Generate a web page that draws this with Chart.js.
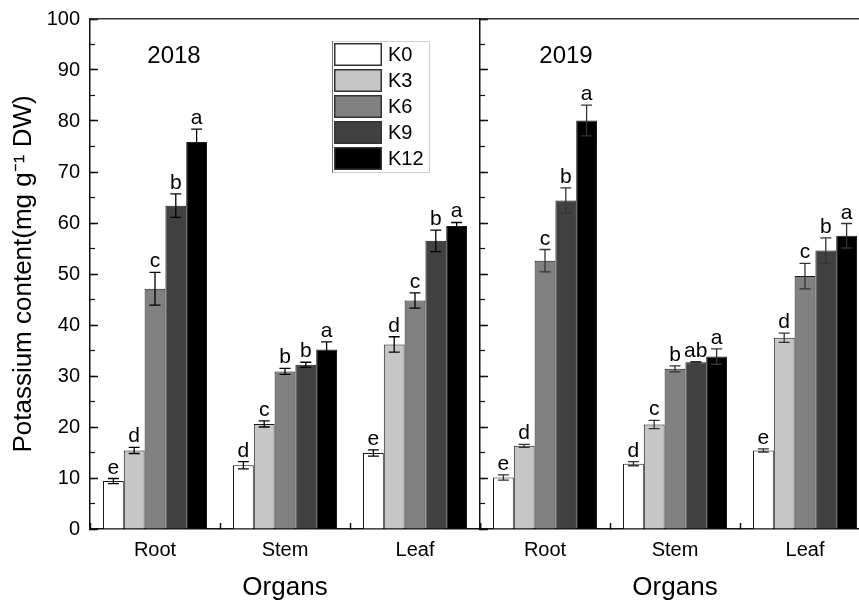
<!DOCTYPE html>
<html>
<head>
<meta charset="utf-8">
<title>Potassium content</title>
<script src="https://cdn.jsdelivr.net/npm/chart.js@4.4.1/dist/chart.umd.min.js"></script>
<style>
  html, body { margin: 0; padding: 0; background: #fff; }
  #wrap { position: relative; width: 859px; height: 604px; overflow: hidden; background: #fff; }
  #wrap canvas { position: absolute; top: 0; }
  #c2018 { left: 0; }
  #c2019 { left: 470px; }
</style>
</head>
<body>
<div id="wrap">
  <canvas id="c2018" width="482" height="604" style="width:482px;height:604px"></canvas>
  <canvas id="c2019" width="410" height="604" style="width:410px;height:604px"></canvas>
</div>
<script>
// ---------------- Data ----------------
const organs = ['Root', 'Stem', 'Leaf'];
const levels = ['K0', 'K3', 'K6', 'K9', 'K12'];
const yMin = 0, yMax = 100, yStep = 10, yMinorStep = 5;

// one row per K level: Root, Stem, Leaf
const values2018 = [
  [9.4, 12.5, 14.9],
  [15.4, 20.6, 36.2],
  [47.1, 30.9, 44.8],
  [63.4, 32.2, 56.5],
  [75.9, 35.2, 59.4]
];
const errors2018 = [
  [0.5, 0.7, 0.6],
  [0.6, 0.6, 1.5],
  [3.2, 0.6, 1.5],
  [2.3, 0.5, 2.1],
  [2.5, 1.5, 0.7]
];
const letters2018 = [
  ['e', 'd', 'e'],
  ['d', 'c', 'd'],
  ['c', 'b', 'c'],
  ['b', 'b', 'b'],
  ['a', 'a', 'a']
];

const values2019 = [
  [10.1, 12.8, 15.4],
  [16.3, 20.5, 37.5],
  [52.6, 31.4, 49.6],
  [64.4, 32.7, 54.6],
  [80.1, 33.8, 57.5]
];
const errors2019 = [
  [0.5, 0.4, 0.3],
  [0.3, 0.8, 0.9],
  [2.2, 0.6, 2.5],
  [2.5, 0.1, 2.5],
  [3.0, 1.5, 2.4]
];
const letters2019 = [
  ['e', 'd', 'e'],
  ['d', 'c', 'd'],
  ['c', 'b', 'c'],
  ['b', 'ab', 'b'],
  ['a', 'a', 'a']
];

// ---------------- Styles ----------------
const fills = ['#ffffff', '#c6c6c6', '#818181', '#414141', '#000000'];
const FONT = "'Liberation Sans', Arial, sans-serif";
const INK = '#111';

Chart.defaults.color = '#000';
Chart.defaults.font.family = FONT;

// error bars + significance letters
const errorBars = {
  id: 'errorBars',
  afterDatasetsDraw(chart, args, opts) {
    const { ctx } = chart;
    const yScale = chart.scales.y;
    ctx.save();
    chart.data.datasets.forEach((ds, i) => {
      const meta = chart.getDatasetMeta(i);
      meta.data.forEach((bar, j) => {
        const v = ds.data[j];
        const e = ds.errors[j];
        const x = bar.x;
        const yTop = yScale.getPixelForValue(v + e);
        const yBot = yScale.getPixelForValue(v - e);
        ctx.strokeStyle = opts.color;
        ctx.lineWidth = 1.3;
        ctx.beginPath();
        ctx.moveTo(x, yTop); ctx.lineTo(x, yBot);
        ctx.moveTo(x - 5.5, yTop); ctx.lineTo(x + 5.5, yTop);
        ctx.moveTo(x - 5.5, yBot); ctx.lineTo(x + 5.5, yBot);
        ctx.stroke();

        ctx.fillStyle = '#000';
        ctx.font = `21px ${FONT}`;
        ctx.textAlign = 'center';
        ctx.textBaseline = 'alphabetic';
        ctx.fillText(ds.letters[j], x, yTop - 5);
      });
    });
    ctx.restore();
  }
};

// year label inside the panel
const panelYear = {
  id: 'panelYear',
  afterDraw(chart, args, opts) {
    const { ctx, chartArea } = chart;
    ctx.save();
    ctx.fillStyle = '#000';
    ctx.font = `24px ${FONT}`;
    ctx.textAlign = 'center';
    ctx.textBaseline = 'middle';
    ctx.fillText(opts.text, chartArea.left + opts.dx, chartArea.top + opts.dy);
    ctx.restore();
  }
};

// boxed legend, Origin style
const boxLegend = {
  id: 'boxLegend',
  afterDraw(chart, args, opts) {
    if (!opts.show) return;
    const { ctx, chartArea } = chart;
    const x0 = chartArea.left + opts.dx;
    const y0 = chartArea.top + opts.dy;
    const rowH = 26, boxW = 48, boxH = 23;
    const n = chart.data.datasets.length;
    ctx.save();
    ctx.strokeStyle = '#d0d0d0';
    ctx.lineWidth = 1;
    ctx.strokeRect(x0 + 0.5, y0 + 0.5, 97, n * rowH + 1);
    ctx.strokeStyle = '#777';
    ctx.beginPath();
    ctx.moveTo(x0 + 0.5, y0); ctx.lineTo(x0 + 0.5, y0 + n * rowH + 2);
    ctx.stroke();
    chart.data.datasets.forEach((ds, i) => {
      const by = y0 + 2 + i * rowH;
      ctx.fillStyle = ds.backgroundColor;
      ctx.fillRect(x0 + 2, by, boxW, boxH);
      ctx.strokeStyle = '#333';
      ctx.lineWidth = 1.5;
      ctx.strokeRect(x0 + 2.75, by + 0.75, boxW - 1.5, boxH - 1.5);
      ctx.fillStyle = '#000';
      ctx.font = `20px ${FONT}`;
      ctx.textAlign = 'left';
      ctx.textBaseline = 'middle';
      ctx.fillText(ds.label, x0 + 56, by + boxH / 2 + 1);
    });
    ctx.restore();
  }
};

function makePanel(canvasId, values, errors, letters, cfg) {
  const datasets = levels.map((lv, i) => ({
    label: lv,
    data: values[i],
    errors: errors[i],
    letters: letters[i],
    backgroundColor: fills[i],
    borderColor: '#1a1a1a',
    borderWidth: 1,
    categoryPercentage: 0.8,
    barPercentage: 1.0,
    xAxisID: 'x',
    yAxisID: 'y'
  }));

  return new Chart(document.getElementById(canvasId), {
    type: 'bar',
    data: { labels: organs, datasets },
    plugins: [errorBars, panelYear, boxLegend],
    options: {
      responsive: false,
      animation: false,
      layout: { padding: { left: 0, right: cfg.padRight, top: 0, bottom: 0 } },
      plugins: {
        legend: { display: false },
        tooltip: { enabled: false },
        errorBars: { color: cfg.errColor },
        panelYear: { text: cfg.year, dx: cfg.yearDx, dy: 37 },
        boxLegend: { show: cfg.legend, dx: 242, dy: 22 }
      },
      scales: {
        x: {
          type: 'category',
          position: 'bottom',
          offset: true,
          grid: { offset: true, drawOnChartArea: false, drawTicks: true, tickLength: -6, tickWidth: 1.5, tickColor: INK },
          border: { display: true, color: INK, width: 1.5 },
          ticks: { font: { size: 20 }, padding: 15, color: '#000' },
          title: { display: true, text: 'Organs', font: { size: 26 }, padding: { top: 0, bottom: 1 }, color: '#000' },
          afterFit: (scale) => { scale.height = 75; }
        },
        xTop: {
          type: 'category',
          position: 'top',
          grid: { display: false, drawTicks: false },
          border: { display: true, color: '#333', width: 1.5 },
          ticks: { display: false },
          afterFit: (scale) => { scale.height = 19; }
        },
        y: {
          type: 'linear',
          position: 'left',
          weight: 1,
          min: yMin,
          max: yMax,
          grid: { drawOnChartArea: false, drawTicks: true, tickLength: -8, tickWidth: 1.5, tickColor: INK },
          border: { display: true, color: INK, width: 1.5 },
          ticks: { stepSize: yStep, display: cfg.yLabels, font: { size: 20 }, padding: 18, color: '#000' },
          title: {
            display: cfg.yLabels,
            text: 'Potassium content(mg g\u207B\u00B9 DW)',
            font: { size: 26 },
            padding: { top: 8, bottom: 0 },
            color: '#000'
          },
          afterFit: (scale) => {
            scale.width = cfg.yWidth;
            scale.paddingTop = 0;
            scale.paddingBottom = 0;
          }
        },
        yMinor: {
          type: 'linear',
          position: 'left',
          weight: 0,
          min: yMin,
          max: yMax,
          grid: { drawOnChartArea: false, drawTicks: true, tickLength: -5, tickWidth: 1.2, tickColor: INK },
          border: { display: false },
          ticks: { stepSize: yMinorStep, display: false },
          afterFit: (scale) => { scale.width = 0; }
        }
      }
    }
  });
}

makePanel('c2018', values2018, errors2018, letters2018, {
  year: '2018', yearDx: 84, legend: true, yLabels: true, yWidth: 90, padRight: 2, errColor: '#000'
});
makePanel('c2019', values2019, errors2019, letters2019, {
  year: '2019', yearDx: 86, legend: false, yLabels: false, yWidth: 10, padRight: 10, errColor: '#333'
});
</script>
</body>
</html>
